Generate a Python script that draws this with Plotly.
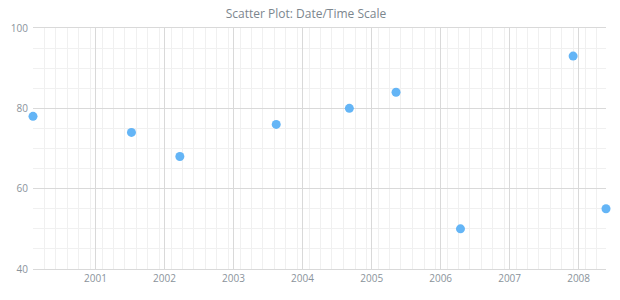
import plotly.graph_objects as go

dates = ["2000-02-05", "2001-07-10", "2002-03-23", "2003-08-15", "2004-09-05",
         "2005-05-10", "2006-04-16", "2007-12-03", "2008-05-25"]
values = [78, 74, 68, 76, 80, 84, 50, 93, 55]

title_text = "Scatter Plot: Date/Time Scale"

fig = go.Figure()
fig.add_trace(go.Scatter(
    x=dates, y=values, mode="markers",
    marker=dict(color="#64b5f6", size=9, line=dict(width=0)),
    cliponaxis=False, showlegend=False,
))

grid_major = "#d9d9d9"
grid_minor = "#f0f0f0"
tick_font = dict(family="Open Sans", size=10, color="#8a939b")

fig.update_layout(
    width=620, height=300,
    margin=dict(l=33, r=14, t=28, b=31),
    paper_bgcolor="white", plot_bgcolor="white",
    title=dict(text=title_text, x=306 / 620, xanchor="center", y=1 - 14 / 300, yanchor="middle",
               font=dict(family="Open Sans", size=12, color="#7c868e")),
    xaxis=dict(
        type="date",
        range=[dates[0], dates[-1]],
        tick0="2001-01-01", dtick="M12", tickformat="%Y",
        showgrid=True, gridcolor=grid_major, gridwidth=1,
        minor=dict(dtick="M2", tick0=dates[0], showgrid=True, gridcolor=grid_minor, gridwidth=1),
        showline=True, linecolor=grid_major, mirror=True,
        zeroline=False, ticks="", tickfont=tick_font,
    ),
    yaxis=dict(
        range=[40, 100], dtick=20, tick0=40,
        showgrid=True, gridcolor=grid_major, gridwidth=1,
        minor=dict(dtick=5, showgrid=True, gridcolor=grid_minor, gridwidth=1),
        showline=False, zeroline=False, ticks="", ticklabelstandoff=4,
        tickfont=tick_font,
    ),
)

fig.write_html("out.html")
